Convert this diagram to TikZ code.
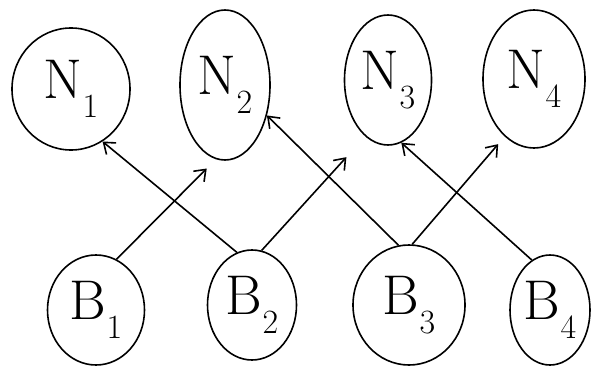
\documentclass[tikz,border=0pt]{standalone}
\usetikzlibrary{shapes.geometric,arrows.meta}
\newcommand{\lbl}[2]{#1\raisebox{-0.35em}{\fontsize{34}{34}\selectfont #2}}
\begin{document}
\begin{tikzpicture}[x=1pt,y=-1pt,
  blob/.style={ellipse,draw,line width=1.6pt,inner sep=0pt},
  lab/.style={font=\fontsize{56}{56}\selectfont},
  arr/.style={-{Straight Barb[length=10pt,width=15pt]},line width=1.6pt}]
\useasboundingbox (0,0) rectangle (591,369);
\node[blob,minimum width=118pt,minimum height=122pt] (n1) at (71,89) {};
\node[blob,minimum width=90pt,minimum height=150pt] (n2) at (225,85) {};
\node[blob,minimum width=87pt,minimum height=130pt] (n3) at (388,80) {};
\node[blob,minimum width=102pt,minimum height=138pt] (n4) at (534,79) {};
\node[blob,minimum width=97pt,minimum height=110pt] (b1) at (96,310) {};
\node[blob,minimum width=89pt,minimum height=110pt] (b2) at (252,305) {};
\node[blob,minimum width=112pt,minimum height=120pt] (b3) at (409,305) {};
\node[blob,minimum width=80pt,minimum height=110pt] (b4) at (550,310) {};
\node[lab] (ln1) at (n1) {\lbl{N}{1}};
\node[lab] (ln2) at (n2) {\lbl{N}{2}};
\node[lab] (ln3) at (n3) {\lbl{N}{3}};
\node[lab] (ln4) at (n4) {\lbl{N}{4}};
\node[lab] (lb1) at (b1) {\lbl{B}{1}};
\node[lab] (lb2) at (b2) {\lbl{B}{2}};
\node[lab] (lb3) at (b3) {\lbl{B}{3}};
\node[lab] (lb4) at (b4) {\lbl{B}{4}};
\draw[arr,shorten >=13pt] (b1.68) -- (n2.263);
\draw[arr] (b2.106) -- (n1.301);
\draw[arr,shorten >=28pt] (b2.80) -- (n3.248);
\draw[arr] (b3.100) -- (n2.324);
\draw[arr,shorten >=10pt] (b3.87) -- (n4.243);
\draw[arr] (b4.110) -- (n3.282);
\end{tikzpicture}
\end{document}
